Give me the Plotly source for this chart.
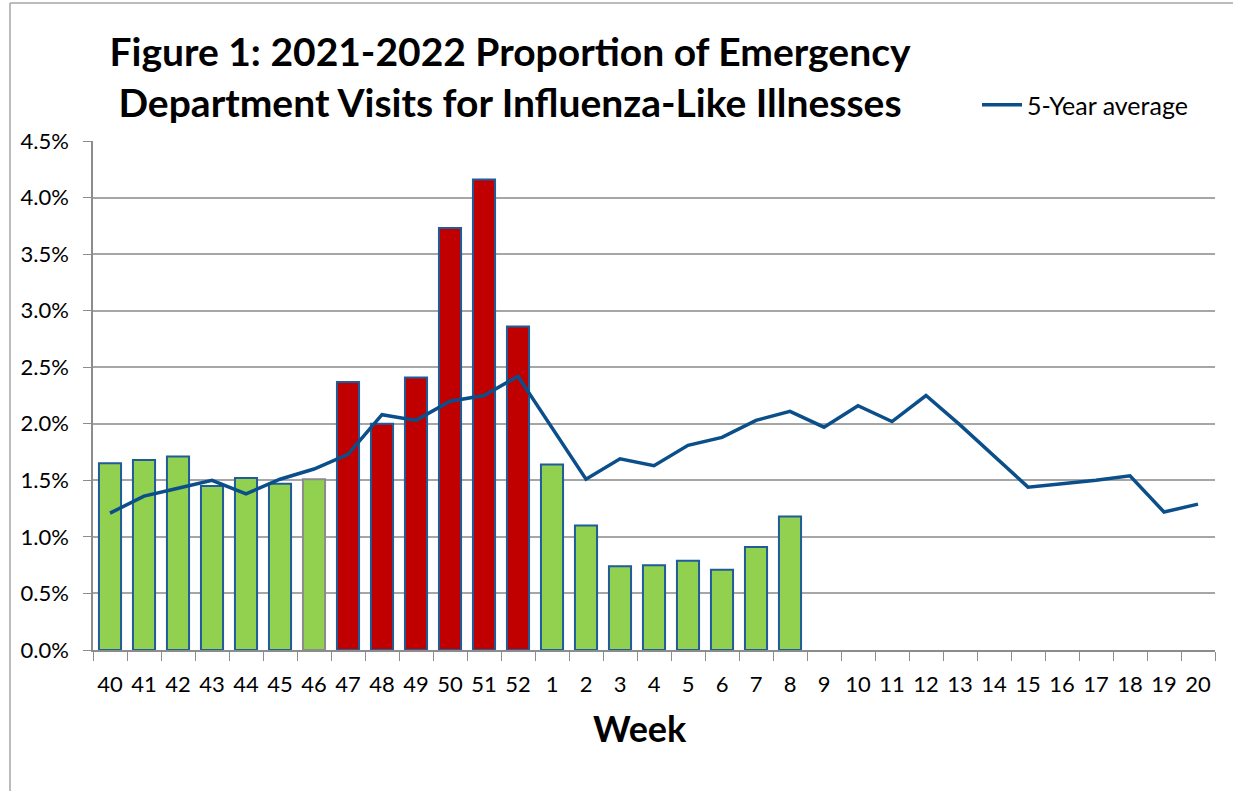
import plotly.graph_objects as go

weeks = [str(w) for w in list(range(40, 53)) + list(range(1, 21))]
bar_weeks = [str(w) for w in list(range(40, 53)) + list(range(1, 9))]
ili_pct = [1.65, 1.68, 1.71, 1.45, 1.52, 1.47, 1.51, 2.37, 2.00, 2.41,
           3.73, 4.16, 2.86, 1.64, 1.10, 0.74, 0.75, 0.79, 0.71, 0.91, 1.18]
bar_status = ["low"] * 7 + ["high"] * 6 + ["low"] * 8
five_year_avg = [1.21, 1.36, 1.43, 1.50, 1.38, 1.51, 1.60, 1.73, 2.08, 2.03,
                 2.20, 2.25, 2.42, 1.97, 1.51, 1.69, 1.63, 1.81, 1.88, 2.03,
                 2.11, 1.97, 2.16, 2.02, 2.25, 1.99, 1.72, 1.44, 1.47, 1.50,
                 1.54, 1.22, 1.29]

FONT = "Lato, Arial"
fill = ["#92D050" if s == "low" else "#C00000" for s in bar_status]
outline = ["#1F5C99"] * len(bar_weeks)
outline[6] = "#8C8C8C"

fig = go.Figure()
fig.add_trace(go.Bar(
    x=bar_weeks, y=[v / 100 for v in ili_pct],
    marker=dict(color=fill, line=dict(color=outline, width=2)),
    showlegend=False, hoverinfo="x+y"))
fig.add_trace(go.Scatter(
    x=weeks, y=[v / 100 for v in five_year_avg], mode="lines",
    name="5-Year average", line=dict(color="#0B4F8A", width=3.5)))

L, R, T, B = 93, 18, 141, 141
pw, ph = 1233 - L - R, 791 - T - B

fig.update_layout(
    width=1233, height=791,
    margin=dict(l=L, r=R, t=T, b=B),
    paper_bgcolor="white", plot_bgcolor="white",
    bargap=0.35,
    font=dict(family=FONT, color="black"),
    title=dict(text="<b>Figure 1: 2021-2022 Proportion of Emergency<br>Department Visits for Influenza-Like Illnesses</b>",
               x=510 / 1233, xanchor="center", y=1 - 66 / 791, yanchor="middle",
               font=dict(size=39, family=FONT, color="black")),
    legend=dict(x=(977 - L) / pw, y=(T + ph - 105) / ph, xanchor="left", yanchor="middle",
                font=dict(size=25, family=FONT), bgcolor="rgba(0,0,0,0)", itemwidth=40),
    xaxis=dict(type="category", categoryorder="array", categoryarray=weeks,
               range=[-0.5, len(weeks) - 0.5],
               showline=True, linecolor="#8C8C8C", linewidth=1.5,
               ticks="outside", tickson="boundaries", ticklen=9, tickcolor="#8C8C8C",
               tickfont=dict(size=22, family=FONT), tickangle=0, ticklabelstandoff=14,
               showgrid=False),
    yaxis=dict(range=[0, 0.045], dtick=0.005, tickformat=".1%",
               showgrid=True, gridcolor="#A6A6A6", gridwidth=1.5,
               showline=True, linecolor="#8C8C8C", linewidth=1.5,
               ticks="outside", ticklen=8, tickcolor="#8C8C8C",
               tickfont=dict(size=22, family=FONT), ticklabelstandoff=10, zeroline=False),
    annotations=[dict(text="<b>Week</b>", xref="paper", yref="paper",
                      x=(640 - L) / pw, y=-(728 - T - ph) / ph, xanchor="center", yanchor="middle",
                      showarrow=False, font=dict(size=36, family=FONT, color="black"))],
    shapes=[
        dict(type="line", xref="paper", yref="paper",
             x0=(10 - L) / pw, x1=(10 - L) / pw, y0=-(791 - T - ph) / ph, y1=(T + ph - 3) / ph,
             line=dict(color="#A6A6A6", width=1.5)),
        dict(type="line", xref="paper", yref="paper",
             x0=(10 - L) / pw, x1=(1233 - L) / pw, y0=(T + ph - 3) / ph, y1=(T + ph - 3) / ph,
             line=dict(color="#A6A6A6", width=1.5)),
    ],
)

fig.write_html("out.html", config={"displayModeBar": False},
               post_script="document.body.style.margin='0';")
